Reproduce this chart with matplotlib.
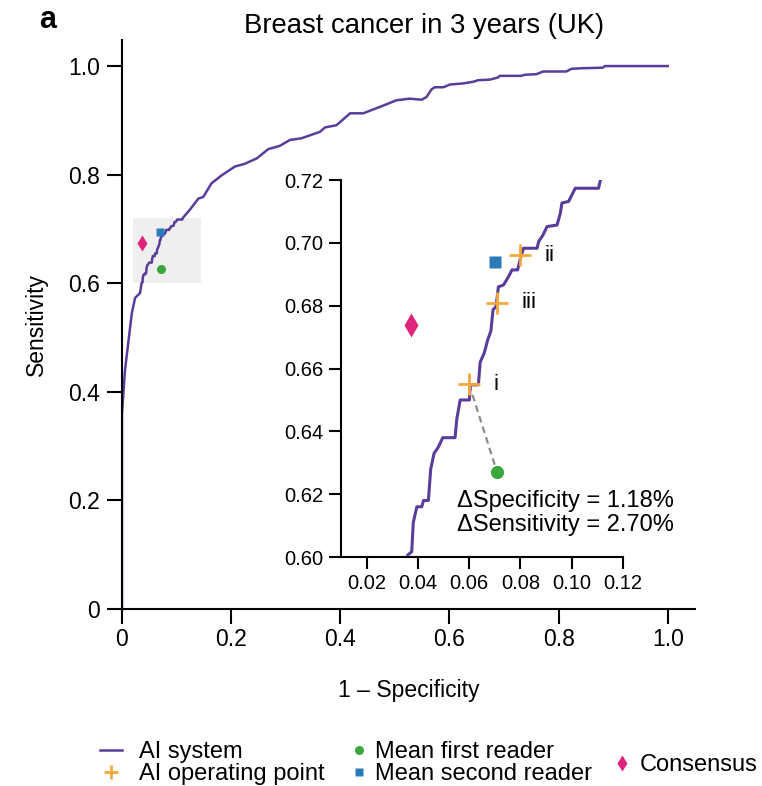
import numpy as np
import matplotlib
matplotlib.use('Agg')
import matplotlib.pyplot as plt
from matplotlib.patches import Rectangle

plt.rcParams['font.family'] = ['Liberation Sans', 'DejaVu Sans']

# ROC curve of the AI system (1 - specificity, sensitivity)
fpr = [0, 0, 0.0055, 0.018, 0.024, 0.033, 0.036, 0.0376, 0.0382, 0.0396, 0.0415,
       0.0422, 0.0441, 0.045, 0.0463, 0.048, 0.0497, 0.0545, 0.0552, 0.0565, 0.0601,
       0.0604, 0.0636, 0.0643, 0.0659, 0.0672, 0.0685, 0.0693, 0.0705, 0.0714, 0.0734,
       0.0754, 0.0767, 0.0789, 0.080, 0.0812, 0.0865, 0.0871, 0.0888, 0.0904, 0.0943,
       0.0956, 0.0962, 0.0988, 0.1001, 0.1014, 0.1105, 0.1112, 0.124, 0.14, 0.149,
       0.164, 0.183, 0.207, 0.225, 0.247, 0.268, 0.289, 0.308, 0.329, 0.363, 0.372,
       0.393, 0.418, 0.442, 0.473, 0.503, 0.527, 0.549, 0.558, 0.567, 0.573, 0.589,
       0.601, 0.625, 0.643, 0.653, 0.674, 0.689, 0.692, 0.732, 0.738, 0.759, 0.772,
       0.814, 0.824, 0.842, 0.881, 0.885, 1.0]
tpr = [0, 0.36, 0.44, 0.545, 0.573, 0.582, 0.6006, 0.6017, 0.611, 0.616, 0.616,
       0.618, 0.618, 0.628, 0.633, 0.635, 0.638, 0.638, 0.644, 0.650, 0.650,
       0.6548, 0.6548, 0.662, 0.665, 0.669, 0.672, 0.6787, 0.6797, 0.686, 0.6866,
       0.6893, 0.6914, 0.6914, 0.6951, 0.6983, 0.6983, 0.7004, 0.7025, 0.7052, 0.7057,
       0.7095, 0.7127, 0.7132, 0.7153, 0.7174, 0.7174, 0.720, 0.735, 0.756, 0.759,
       0.784, 0.799, 0.815, 0.820, 0.830, 0.847, 0.853, 0.864, 0.867, 0.879, 0.887,
       0.891, 0.913, 0.913, 0.925, 0.937, 0.940, 0.938, 0.943, 0.957, 0.961, 0.961,
       0.966, 0.968, 0.971, 0.974, 0.975, 0.979, 0.982, 0.982, 0.984, 0.985, 0.990,
       0.990, 0.995, 0.996, 0.997, 1.0, 1.0]

# AI operating points i, ii, iii
op_names = ['i', 'ii', 'iii']
op_fpr = [0.060, 0.080, 0.071]
op_tpr = [0.655, 0.696, 0.681]

# readers
first_reader = (0.0709, 0.627)
second_reader = (0.0700, 0.694)
consensus = (0.0373, 0.674)

purple = '#5a3d9a'
orange = '#f3a83b'
green = '#3aa63c'
blue = '#2b7bb9'
pink = '#e0237b'

fig = plt.figure(figsize=(7.62, 7.86), dpi=100)
ax = fig.add_axes([0.1601, 0.2252, 0.752, 0.7239])

ax.add_patch(Rectangle((0.02, 0.60), 0.125, 0.12, facecolor='#efefef',
                       edgecolor='none', zorder=0))
line, = ax.plot(fpr, tpr, color=purple, lw=1.8, zorder=2, label='AI system')
p1, = ax.plot(*first_reader, 'o', color=green, ms=6.5, mec='none', zorder=3,
              label='Mean first reader')
p2, = ax.plot(*second_reader, 's', color=blue, ms=5.5, mec='none', zorder=3,
              label='Mean second reader')
p3, = ax.plot(*consensus, 'd', color=pink, ms=8, mec='none', zorder=3,
              label='Consensus')

ax.set_xlim(0, 1.05)
ax.set_ylim(0, 1.048)
ax.set_xticks([0, 0.2, 0.4, 0.6, 0.8, 1.0])
ax.set_xticklabels(['0', '0.2', '0.4', '0.6', '0.8', '1.0'])
ax.set_yticks([0, 0.2, 0.4, 0.6, 0.8, 1.0])
ax.set_yticklabels(['0', '0.2', '0.4', '0.6', '0.8', '1.0'])
for s in ['top', 'right']:
    ax.spines[s].set_visible(False)
for s in ['left', 'bottom']:
    ax.spines[s].set_linewidth(1.5)
ax.tick_params(axis='both', length=11, width=1.5, labelsize=16.5)
ax.tick_params(axis='x', pad=3)
ax.tick_params(axis='y', pad=5)
ax.set_xlabel('1 – Specificity', fontsize=16.5, labelpad=20)
ax.set_ylabel('Sensitivity', fontsize=16.5, labelpad=14)

# inset
ins = fig.add_axes([0.4475, 0.2913, 0.370, 0.4796])
ins.plot(fpr, tpr, color=purple, lw=2.2, zorder=2)
ins.plot([op_fpr[0], first_reader[0]], [op_tpr[0], first_reader[1]],
         ls=(0, (3, 2)), color='#8c8c8c', lw=1.6, zorder=1)
op, = ins.plot(op_fpr, op_tpr, '+', color=orange, ms=16, mew=2, zorder=4,
               label='AI operating point')
ins.plot(*first_reader, 'o', color=green, ms=9.5, mec='none', zorder=3)
ins.plot(*second_reader, 's', color=blue, ms=8, mec='none', zorder=3)
ins.plot(*consensus, 'd', color=pink, ms=12.5, mec='none', zorder=3)
for name, x, y in zip(op_names, op_fpr, op_tpr):
    ins.text(x + 0.0095, y, name, fontsize=16, va='center', ha='left')
ins.text(0.0553, 0.6160, 'ΔSpecificity = 1.18%', fontsize=17, va='baseline')
ins.text(0.0553, 0.6083, 'ΔSensitivity = 2.70%', fontsize=17, va='baseline')

ins.set_xlim(0.01, 0.12)
ins.set_ylim(0.60, 0.72)
ins.set_xticks([0.02, 0.04, 0.06, 0.08, 0.10, 0.12])
ins.set_xticklabels(['0.02', '0.04', '0.06', '0.08', '0.10', '0.12'])
ins.set_yticks([0.60, 0.62, 0.64, 0.66, 0.68, 0.70, 0.72])
ins.set_yticklabels(['0.60', '0.62', '0.64', '0.66', '0.68', '0.70', '0.72'])
ins.patch.set_alpha(0)
for s in ['top', 'right']:
    ins.spines[s].set_visible(False)
for s in ['left', 'bottom']:
    ins.spines[s].set_linewidth(1.5)
ins.tick_params(axis='both', length=8.5, width=1.5, labelsize=14.5)
ins.tick_params(axis='y', pad=4)
ins.tick_params(axis='x', pad=4)

fig.text(424 / 762, 1 - 33 / 786, 'Breast cancer in 3 years (UK)', fontsize=19.8,
         ha='center', va='baseline')
fig.text(39 / 762, 1 - 28 / 786, 'a', fontsize=22, fontweight='bold',
         ha='left', va='baseline')

common = dict(frameon=False, fontsize=17, borderpad=0, borderaxespad=0,
              handlelength=0.95, labelspacing=0.02, loc='upper left')
leg1 = fig.legend(handles=[line, op], bbox_to_anchor=(100 / 762, 1 - 741 / 786),
                  handletextpad=0.72, markerscale=0.65, **common)
leg2 = fig.legend(handles=[p1, p2], bbox_to_anchor=(348 / 762, 1 - 741 / 786),
                  handletextpad=0.2, **common)
leg3 = fig.legend(handles=[p3], bbox_to_anchor=(611 / 762, 1 - 754 / 786),
                  handletextpad=0.25, **common)

fig.savefig('out.png', dpi=100)
